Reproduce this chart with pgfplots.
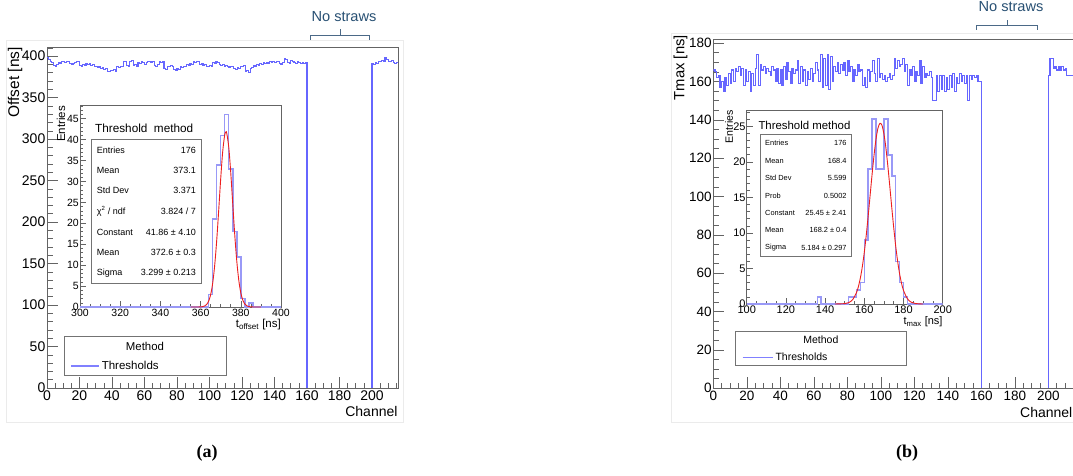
\documentclass[border=0pt]{standalone}
\usepackage{fontspec}
\setmainfont{Liberation Sans}
\newfontfamily\serifbold{Liberation Serif}
\usepackage{pgfplots}
\pgfplotsset{compat=1.18}
\definecolor{histblue}{rgb}{0.40,0.40,1.0}
\definecolor{legblue}{rgb}{0.50,0.50,1.0}
\definecolor{insetblue}{rgb}{0.60,0.60,0.97}
\definecolor{fitred}{rgb}{0.93,0.12,0.12}
\definecolor{framegray}{RGB}{100,100,100}
\definecolor{strawtext}{RGB}{40,80,115}
\definecolor{strawbr}{RGB}{75,105,135}
\newcommand{\fs}[1]{\fontsize{#1}{#1}\selectfont}
\pgfplotsset{
  rootaxis/.style={scale only axis, axis line style={framegray, line width=0.8pt},
    tick style={framegray, line width=0.6pt}, tick align=inside,
    xtick pos=left, ytick pos=left,
    /pgf/number format/assume math mode=true,
    axis background/.style={fill=white}},
}
\begin{document}
\begin{tikzpicture}
\useasboundingbox (0pt,0pt) rectangle (1073pt,475pt);
\begin{scope}[shift={(0pt,475pt)}, x=1pt, y=-1pt]
\draw[black!8, line width=0.8pt] (6,40) rectangle (403,422);
\draw[black!8, line width=0.8pt] (671,33) rectangle (1090,422);
\end{scope}

% ---------- left main axis ----------
\begin{axis}[rootaxis, at={(47pt,87pt)}, anchor=south west, width=351pt, height=341pt,
  xmin=0, xmax=216, ymin=0, ymax=411,
  xtick={0,20,...,200}, ytick={0,50,...,400},
  minor xtick={0,5,...,215}, minor ytick={0,10,...,410},
  major tick length=11pt, minor tick length=5.5pt,
  xticklabel style={font=\fs{14}, inner sep=2.5pt},
  yticklabel style={font=\fs{14}, inner sep=1.5pt},
  legend style={at={(axis description cs:0.0655,0.0654)}, anchor=west, draw=none, fill=none,
    font=\fs{11.5}, inner sep=0pt},
  legend image code/.code={\draw[color=legblue, line width=1.6pt] (0pt,0pt) -- (28pt,0pt);},
]
\addplot[const plot, color=histblue, line width=1.1pt, mark=none] coordinates {
(0,398)(1,396)(2,393)(3,392)(4,389)(5,388)(6,390)(7,392)(8,391)(9,393)
(10,393)(11,392)(12,394)(13,393)(14,391)(15,390)(16,391)(17,392)(18,393)(19,393)
(20,389)(21,388)(22,390)(23,389)(24,391)(25,390)(26,391)(27,389)(28,390)(29,387)
(30,388)(31,386)(32,387)(33,385)(34,386)(35,384)(36,385)(37,382)(38,381)(39,383)
(40,383)(41,384)(42,382)(43,387)(44,386)(45,388)(46,387)(47,394)(48,393)(49,389)
(50,388)(51,394)(52,395)(53,389)(54,390)(55,388)(56,392)(57,391)(58,393)(59,392)
(60,390)(61,392)(62,393)(63,394)(64,392)(65,393)(66,389)(67,388)(68,390)(69,393)
(70,392)(71,394)(72,385)(73,384)(74,388)(75,387)(76,389)(77,388)(78,384)(79,383)
(80,385)(81,384)(82,387)(83,386)(84,388)(85,387)(86,390)(87,389)(88,391)(89,390)
(90,393)(91,392)(92,394)(93,393)(94,390)(95,391)(96,389)(97,390)(98,388)(99,387)
(100,389)(101,388)(102,392)(103,391)(104,393)(105,392)(106,390)(107,389)(108,390)(109,388)
(110,389)(111,387)(112,386)(113,388)(114,387)(115,385)(116,384)(117,386)(118,385)(119,388)
(120,387)(121,389)(122,381)(123,383)(124,380)(125,385)(126,386)(127,389)(128,388)(129,390)
(130,389)(131,391)(132,390)(133,392)(134,391)(135,392)(136,391)(137,393)(138,392)(139,393)
(140,392)(141,394)(142,393)(143,391)(144,390)(145,392)(146,397)(147,396)(148,392)(149,391)
(150,395)(151,394)(152,392)(153,391)(154,393)(155,392)(156,391)(157,392)(158,391)(159,392)
(160,0)
};
\addlegendentry{Thresholds}
\addplot[const plot, color=histblue, line width=1.1pt, mark=none, forget plot] coordinates {
(200,0)(200,391)(201,390)(202,392)(203,391)(204,394)(205,393)(206,395)(207,394)(208,398)(209,396)
(210,394)(211,393)(212,395)(213,392)(214,391)(215,392)(216,392)
};
\end{axis}

% ---------- left inset ----------
\begin{axis}[rootaxis, at={(80pt,168pt)}, anchor=south west, width=201pt, height=202pt,
  xmin=300, xmax=400, ymin=0, ymax=48.3,
  xtick={300,320,...,400}, ytick={0,5,...,45},
  minor xtick={300,305,...,400}, minor ytick={0,1,...,48},
  major tick length=6pt, minor tick length=3pt,
  xticklabel style={font=\fs{10.5}, inner sep=1.5pt},
  yticklabel style={font=\fs{10.5}, inner sep=1pt},
]
\addplot[const plot, color=insetblue, line width=1.5pt, mark=none] coordinates {
(300,0)(364,3)(366,21)(368,34)(370,41)(372,46)(374,33)(376,18)(378,12)(380,2)(382,0)(384,1)(386,0)(400,0)
};
\addplot[color=fitred, line width=0.9pt, smooth, mark=none] coordinates {
(355,0.0)(358,0.003)(360,0.028)(361,0.087)(362,0.240)(363,0.607)(364,1.40)(365,2.95)(366,5.66)(367,9.91)
(368,15.84)(369,23.08)(370,30.68)(371,37.21)(372,41.17)(372.6,41.86)(373,41.55)(374,38.26)(375,32.13)
(376,24.61)(377,17.20)(378,10.97)(379,6.38)(380,3.38)(381,1.64)(382,0.72)(383,0.29)(384,0.107)(385,0.036)(387,0.002)(390,0.0)
};
\end{axis}

% ---------- right main axis ----------
\begin{axis}[rootaxis, at={(713.3pt,86.7pt)}, anchor=south west, width=361.8pt, height=349pt,
  xmin=0, xmax=216, ymin=0, ymax=182,
  xtick={0,20,...,200}, ytick={0,20,...,180},
  minor xtick={0,5,...,215}, minor ytick={0,5,...,180},
  major tick length=11pt, minor tick length=5.5pt,
  xticklabel style={font=\fs{13.5}, inner sep=2.5pt},
  yticklabel style={font=\fs{13.5}, inner sep=1.5pt},
  legend style={at={(axis description cs:0.0785,0.0888)}, anchor=west, draw=none, fill=none,
    font=\fs{10.5}, inner sep=0pt},
  legend image code/.code={\draw[color=legblue, line width=1.6pt] (0pt,0pt) -- (30pt,0pt);},
]
\addplot[const plot, color=histblue, line width=1.1pt, mark=none] coordinates {
(0,166)(1,165)(2,162)(3,163)(4,157)(5,160)(6,155)(7,162)(8,158)(9,164)
(10,159)(11,166)(12,160)(13,167)(14,165)(15,168)(16,163)(17,167)(18,158)(19,166)
(20,160)(21,165)(22,155)(23,164)(24,158)(25,167)(26,174)(27,158)(28,169)(29,166)
(30,168)(31,164)(32,167)(33,165)(34,163)(35,168)(36,166)(37,160)(38,167)(39,159)
(40,166)(41,158)(42,168)(43,161)(44,170)(45,165)(46,159)(47,167)(48,164)(49,166)
(50,171)(51,159)(52,168)(53,160)(54,166)(55,158)(56,165)(57,161)(58,167)(59,160)
(60,164)(61,170)(62,166)(63,160)(64,174)(65,157)(66,172)(67,158)(68,174)(69,156)
(70,173)(71,160)(72,168)(73,165)(74,170)(75,164)(76,169)(77,166)(78,170)(79,163)
(80,171)(81,165)(82,168)(83,160)(84,166)(85,163)(86,169)(87,165)(88,166)(89,158)
(90,162)(91,157)(92,166)(93,160)(94,165)(95,171)(96,164)(97,160)(98,172)(99,162)
(100,164)(101,161)(102,163)(103,160)(104,162)(105,164)(106,161)(107,163)(108,172)(109,167)
(110,171)(111,168)(112,169)(113,172)(114,165)(115,169)(116,158)(117,166)(118,163)(119,168)
(120,160)(121,165)(122,163)(123,171)(124,159)(125,168)(126,162)(127,164)(128,163)(129,165)
(130,162)(131,150)(132,150)(133,163)(134,155)(135,163)(136,156)(137,163)(138,155)(139,162)
(140,156)(141,163)(142,157)(143,164)(144,155)(145,162)(146,159)(147,164)(148,160)(149,163)
(150,159)(151,163)(152,150)(153,163)(154,161)(155,163)(156,162)(157,163)(158,160)(159,160)
(160,0)
};
\addlegendentry{Thresholds}
\addplot[const plot, color=histblue, line width=1.1pt, mark=none, forget plot] coordinates {
(200,0)(200,163)(201,172)(202,172)(203,167)(204,168)(205,166)(206,168)(207,166)(208,168)(209,166)
(210,167)(211,163)(212,163)(213,163)(214,163)(215,163)(216,163)
};
\end{axis}

% ---------- right inset ----------
\begin{axis}[rootaxis, at={(746.7pt,171pt)}, anchor=south west, width=196pt, height=194pt,
  xmin=100, xmax=200, ymin=0, ymax=27.3,
  xtick={100,120,...,200}, ytick={0,5,...,25},
  minor xtick={100,105,...,200}, minor ytick={0,1,...,27},
  major tick length=6pt, minor tick length=3pt,
  xticklabel style={font=\fs{11}, inner sep=1.5pt},
  yticklabel style={font=\fs{11}, inner sep=1pt},
]
\addplot[const plot, color=insetblue, line width=1.5pt, mark=none] coordinates {
(100,0)(136,1)(138,0)(152,1)(154,1)(156,2)(158,3)(160,9)(162,19)(164,26)(166,19)(168,19)(170,26)
(172,21)(174,18)(176,6)(178,3)(180,1)(182,0)(200,0)
};
\addplot[color=fitred, line width=0.9pt, smooth, mark=none] coordinates {
(145,0.001)(150,0.054)(152,0.193)(154,0.597)(156,1.596)(157,2.467)(158,3.672)(159,5.271)(160,7.284)
(161,9.702)(162,12.45)(163,15.39)(164,18.33)(165,21.03)(166,23.26)(167,24.78)(168,25.43)(169,25.15)
(170,23.96)(171,22.00)(172,19.45)(173,16.58)(174,13.61)(175,10.77)(176,8.20)(177,6.02)(178,4.26)
(179,2.91)(180,1.909)(182,0.736)(184,0.245)(186,0.070)(188,0.017)(190,0.004)
};
\end{axis}

% ---------- annotations ----------
\begin{scope}[shift={(0pt,475pt)}, x=1pt, y=-1pt]
% No straws
\node[strawtext, font=\fs{14.6}] at (344,17) {No straws};
\draw[strawbr, line width=0.9pt] (310,40) -- (310,35) -- (369,35) -- (369,40);
\draw[strawbr, line width=0.9pt] (340,35) -- (340,29);
\node[strawtext, font=\fs{14.6}] at (1011,7) {No straws};
\draw[strawbr, line width=0.9pt] (976,30) -- (976,25) -- (1037,25) -- (1037,30);
\draw[strawbr, line width=0.9pt] (1007,25) -- (1007,20);
% axis titles
\node[rotate=90, anchor=east, inner sep=0pt, font=\fs{15.5}] at (15,47) {Offset [ns]};
\node[anchor=east, inner sep=0pt, font=\fs{14}] at (397.7,411.7) {Channel};
\node[rotate=90, anchor=east, inner sep=0pt, font=\fs{14.8}] at (680.5,35) {Tmax [ns]};
\node[anchor=west, inner sep=0pt, font=\fs{14}] at (1020,412.7) {Channel};
% inset titles
\node[rotate=90, anchor=east, inner sep=0pt, font=\fs{11.5}] at (61,106) {Entries};
\node[anchor=east, inner sep=0pt, font=\fs{11.5}] at (281,325) {t\textsubscript{offset} [ns]};
\node[rotate=90, anchor=east, inner sep=0pt, font=\fs{10.6}] at (729,110) {Entries};
\node[anchor=east, inner sep=0pt, font=\fs{11}] at (942.7,321.7) {t\textsubscript{max} [ns]};
% left stats box
\node[anchor=west, inner sep=0pt, font=\fs{11.75}] at (95,128.3) {Threshold\ \ method};
\draw[black!55, fill=white, line width=0.7pt] (91.7,139.3) rectangle (201.7,283.3);
\begin{scope}[every node/.style={inner sep=0pt, font=\fs{9}}]
\node[anchor=west] at (96.7,150) {Entries};   \node[anchor=east] at (196,150) {176};
\node[anchor=west] at (96.7,170.3) {Mean};    \node[anchor=east] at (196,170.3) {373.1};
\node[anchor=west] at (96.7,190.7) {Std Dev}; \node[anchor=east] at (196,190.7) {3.371};
\node[anchor=west] at (96.7,211) {χ\textsuperscript{2} / ndf}; \node[anchor=east] at (196,211) {3.824 / 7};
\node[anchor=west] at (96.7,232) {Constant};  \node[anchor=east] at (196,232) {41.86 ± 4.10};
\node[anchor=west] at (96.7,252.7) {Mean};    \node[anchor=east] at (196,252.7) {372.6 ± 0.3};
\node[anchor=west] at (96.7,272.7) {Sigma};   \node[anchor=east] at (196,272.7) {3.299 ± 0.213};
\end{scope}
% right stats box
\node[anchor=west, inner sep=0pt, font=\fs{11.4}] at (758.3,125.7) {Threshold method};
\draw[black!55, fill=white, line width=0.7pt] (760,134.3) rectangle (851.7,256);
\begin{scope}[every node/.style={inner sep=0pt, font=\fs{7.4}}]
\node[anchor=west] at (765,143.3) {Entries};   \node[anchor=east] at (846.7,143.3) {176};
\node[anchor=west] at (765,160.7) {Mean};      \node[anchor=east] at (846.7,160.7) {168.4};
\node[anchor=west] at (765,178.3) {Std Dev};   \node[anchor=east] at (846.7,178.3) {5.599};
\node[anchor=west] at (765,195.7) {Prob};      \node[anchor=east] at (846.7,195.7) {0.5002};
\node[anchor=west] at (765,213) {Constant};    \node[anchor=east] at (846.7,213) {25.45 ± 2.41};
\node[anchor=west] at (765,230.3) {Mean};      \node[anchor=east] at (846.7,230.3) {168.2 ± 0.4};
\node[anchor=west] at (765,247.7) {Sigma};     \node[anchor=east] at (846.7,247.7) {5.184 ± 0.297};
\end{scope}
% legend frames and titles
\draw[black!55, line width=0.8pt] (64,336.7) rectangle (226,375);
\node[font=\fs{11.4}] at (145,346.7) {Method};
\draw[black!55, line width=0.8pt] (735.7,331) rectangle (906,365.7);
\node[font=\fs{10.5}] at (820.9,339.3) {Method};
% panel labels
\node[font=\serifbold\bfseries\fs{18}] at (207,453) {(a)};
\node[font=\serifbold\bfseries\fs{18}] at (907,453) {(b)};
\end{scope}
\end{tikzpicture}
\end{document}
